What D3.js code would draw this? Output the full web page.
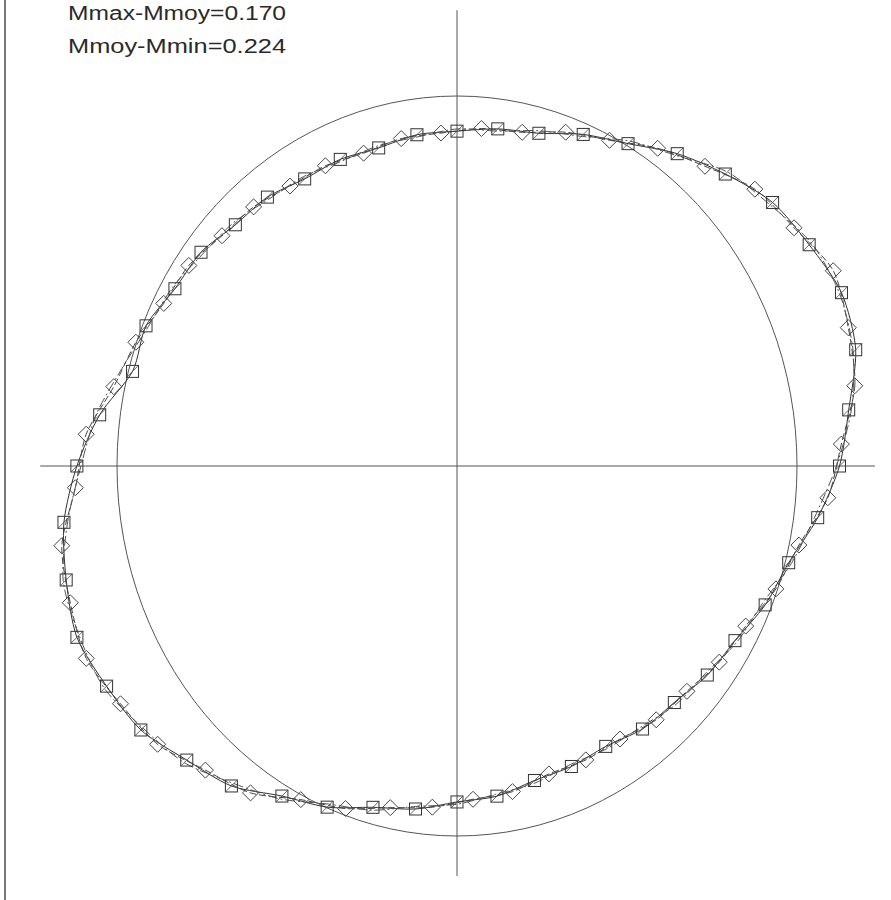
<!DOCTYPE html>
<html>
<head>
<meta charset="utf-8">
<script src="https://cdn.jsdelivr.net/npm/d3@7"></script>
<style>
  body { margin: 0; background: #fff; }
  svg { display: block; }
</style>
</head>
<body>
<div class="chart"></div>
<script>
// polar measurement: radius relative to the reference circle (1 = circle)
var labels = ["Mmax-Mmoy=0.170", "Mmoy-Mmin=0.224"];

var anglesA = [0, 7.5, 15, 22.5, 30, 37.5, 45, 52.5, 60, 67.5, 75, 82.5,
  90, 97.5, 105, 112.5, 120, 127.5, 135, 142.5, 150, 157.5, 165, 172.5,
  180, 187.5, 195, 202.5, 210, 217.5, 225, 232.5, 240, 247.5, 255, 262.5,
  270, 277.5, 285, 292.5, 300, 307.5, 315, 322.5, 330, 337.5, 345, 352.5];

// square markers
var radiiA = [1.125, 1.162, 1.214, 1.224, 1.196, 1.170, 1.116, 1.064, 1.006, 0.970, 0.931, 0.919,
  0.905, 0.903, 0.890, 0.897, 0.896, 0.916, 0.922, 0.949, 0.958, 0.990, 0.988, 1.060,
  1.118, 1.166, 1.190, 1.210, 1.190, 1.172, 1.124, 1.090, 1.030, 0.998, 0.955, 0.935,
  0.908, 0.900, 0.880, 0.879, 0.875, 0.896, 0.904, 0.928, 0.944, 0.981, 1.010, 1.070];

var anglesB = [3, 10.5, 18, 25.5, 33, 40.5, 48, 55.5, 63, 70.5, 78, 85.5,
  93, 100.5, 108, 115.5, 123, 130.5, 138, 145.5, 153, 160.5, 168, 175.5,
  183, 190.5, 198, 205.5, 213, 220.5, 228, 235.5, 243, 250.5, 258, 265.5,
  273, 280.5, 288, 295.5, 303, 310.5, 318, 325.5, 333, 340.5, 348, 355.5];

// diamond markers
var radiiB = [1.132, 1.190, 1.210, 1.226, 1.182, 1.152, 1.090, 1.042, 0.988, 0.957, 0.922, 0.915,
  0.901, 0.900, 0.889, 0.899, 0.902, 0.921, 0.930, 0.957, 0.968, 1.002, 1.032, 1.094,
  1.124, 1.182, 1.196, 1.208, 1.180, 1.158, 1.106, 1.072, 1.012, 0.982, 0.944, 0.925,
  0.902, 0.895, 0.875, 0.880, 0.880, 0.902, 0.910, 0.936, 0.953, 0.995, 1.028, 1.094];

// third pass, line only
var radiiC = [1.116, 1.170, 1.206, 1.218, 1.204, 1.160, 1.124, 1.058, 1.014, 0.964, 0.938, 0.913,
  0.911, 0.897, 0.896, 0.891, 0.903, 0.909, 0.930, 0.942, 0.966, 0.983, 1.020, 1.070,
  1.106, 1.155, 1.199, 1.202, 1.199, 1.164, 1.134, 1.081, 1.039, 0.989, 0.963, 0.928,
  0.914, 0.894, 0.887, 0.873, 0.882, 0.889, 0.911, 0.921, 0.951, 0.972, 1.018, 1.061];

// reference circle and axis extents in the same units
var circleRadius = 1;
var axisX = [-1.226, 1.229];
var axisY = [-1.108, 1.232];

var svgWidth = 891, svgHeight = 900;

var svg = d3.select(".chart").append("svg")
  .attr("width", svgWidth)
  .attr("height", svgHeight);

// the scan is a bit squashed horizontally, so x and y get their own scales
var xScale = d3.scaleLinear().domain([-1, 1]).range([117, 797]);
var yScale = d3.scaleLinear().domain([-1, 1]).range([836, 96]);

function toXY(a, r) {
  var t = a * Math.PI / 180;
  return [xScale(r * Math.cos(t)), yScale(r * Math.sin(t))];
}

// left frame edge
svg.append("line")
  .attr("x1", 5).attr("x2", 5)
  .attr("y1", 0).attr("y2", svgHeight)
  .attr("stroke", "#777")
  .attr("stroke-width", 2);

// axes through the centre
svg.append("line")
  .attr("x1", xScale(axisX[0])).attr("x2", xScale(axisX[1]))
  .attr("y1", yScale(0)).attr("y2", yScale(0))
  .attr("stroke", "#555").attr("stroke-width", 1);
svg.append("line")
  .attr("x1", xScale(0)).attr("x2", xScale(0))
  .attr("y1", yScale(axisY[1])).attr("y2", yScale(axisY[0]))
  .attr("stroke", "#555").attr("stroke-width", 1);

// reference circle
svg.append("ellipse")
  .attr("cx", xScale(0)).attr("cy", yScale(0))
  .attr("rx", xScale(circleRadius) - xScale(0))
  .attr("ry", yScale(0) - yScale(circleRadius))
  .attr("fill", "none")
  .attr("stroke", "#555")
  .attr("stroke-width", 1);

var line = d3.line().curve(d3.curveCardinalClosed.tension(0.2));

var series = [
  { angles: anglesA, radii: radiiA, dash: null, color: "#333" },
  { angles: anglesB, radii: radiiB, dash: "7,3", color: "#444" },
  { angles: anglesA, radii: radiiC, dash: "10,3,2,3", color: "#555" }
];

series.forEach(function(s) {
  var pts = s.angles.map(function(a, i) { return toXY(a, s.radii[i]); });
  svg.append("path")
    .attr("d", line(pts))
    .attr("fill", "none")
    .attr("stroke", s.color)
    .attr("stroke-width", 1)
    .attr("stroke-dasharray", s.dash);
});

// square markers with a slash
var sq = svg.selectAll("g.sq")
  .data(anglesA)
  .enter()
  .append("g")
  .attr("class", "sq")
  .attr("transform", function(a, i) {
    var p = toXY(a, radiiA[i]);
    return "translate(" + p[0] + "," + p[1] + ")";
  });
sq.append("rect")
  .attr("x", -6).attr("y", -6)
  .attr("width", 12).attr("height", 12)
  .attr("fill", "none")
  .attr("stroke", "#333")
  .attr("stroke-width", 1);
sq.append("line")
  .attr("x1", -6).attr("y1", 6).attr("x2", 6).attr("y2", -6)
  .attr("stroke", "#444")
  .attr("stroke-width", 0.8);

// diamond markers
svg.selectAll("path.di")
  .data(anglesB)
  .enter()
  .append("path")
  .attr("class", "di")
  .attr("d", "M0,-8L8,0L0,8L-8,0Z")
  .attr("transform", function(a, i) {
    var p = toXY(a, radiiB[i]);
    return "translate(" + p[0] + "," + p[1] + ")";
  })
  .attr("fill", "none")
  .attr("stroke", "#444")
  .attr("stroke-width", 1);

// header text
svg.selectAll("text.lbl")
  .data(labels)
  .enter()
  .append("text")
  .attr("class", "lbl")
  .attr("x", 68)
  .attr("y", function(d, i) { return 20 + i * 33; })
  .attr("font-family", "Liberation Sans, Arial, sans-serif")
  .attr("font-size", "20px")
  .attr("textLength", 218)
  .attr("lengthAdjust", "spacingAndGlyphs")
  .attr("fill", "#2a2a2a")
  .text(function(d) { return d; });
</script>
</body>
</html>
